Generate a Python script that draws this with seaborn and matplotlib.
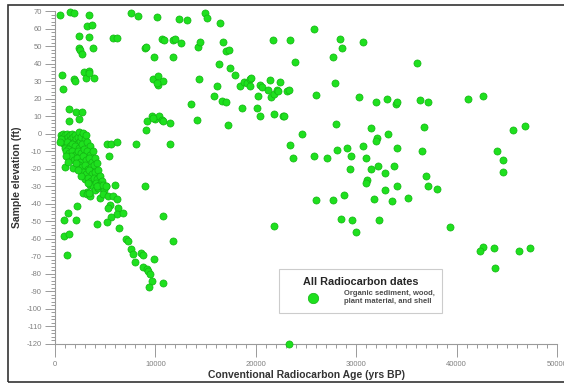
import numpy as np
import pandas as pd
import matplotlib
matplotlib.use('Agg')
import matplotlib.pyplot as plt
from matplotlib.patches import Rectangle
from matplotlib.lines import Line2D
from matplotlib.ticker import MultipleLocator
import seaborn as sns

# radiocarbon dates (age in yrs BP, elevation in ft)
# dense group of young, shallow samples
cluster_age = [600, 800, 900, 1000, 1100, 1200, 1300, 1400, 1500, 1600, 1700, 1800, 1900, 2000,
               2100, 2200, 2300, 2400, 2500, 2600, 2800, 3000, 3100, 700, 900, 1200, 1500, 1700,
               2000, 2400, 2700, 3200, 3500, 1000, 1300, 600, 500,
               1100, 1400, 1700, 2000, 2300, 2600, 2900, 3200, 3500, 3800, 1600, 1900, 2200, 2500,
               2800, 3100, 3400, 3700, 4000, 1100, 1000, 1800, 2400, 2700, 3000, 3300, 3600, 3900,
               4200, 2100, 1300,
               2800, 3100, 3400, 3700, 4000, 4300, 3000, 3300, 3600, 3900, 4200, 4500, 3500, 3800,
               4100, 4400, 4700, 4000, 4300, 4600, 4900, 5100, 3200, 2600, 2300, 3300, 4500, 4200, 4800]
cluster_elev = [-1, 0, -2, -1, -3, 0, -2, -4, -1, -3, 0, -2, -5, -1,
                -3, -6, -2, 1, -4, -2, 0.5, -3, -1, -4, -6, -5, -7, -6,
                -7, -8, -6, -5, -7, -8, -9, -3, -5,
                -10, -11, -10, -12, -10, -11, -9, -10, -12, -10, -13, -15, -14, -16,
                -13, -15, -14, -16, -14, -13, -19, -19.5, -18, -19, -18, -20, -19, -18,
                -17, -17, -16,
                -22, -23, -21, -23, -22, -21, -26, -25, -27, -25, -26, -24, -29, -30,
                -28, -29, -27, -32, -31, -30, -32, -30, -33, -24, -21, -28, -29, -30, -29]

# scattered samples, upper left
upper_age = [500, 1500, 1900, 3400, 3200, 3700, 2400, 3400, 2400, 2500, 2700, 3800, 5800, 6200,
             7600, 8300, 10200, 12400, 13100, 9000, 9100, 9900, 10700, 10900, 11800, 12000, 12500,
             11800, 14200, 14400, 700, 800, 1900, 2000, 2900, 3400, 3100, 3900, 3400, 9800, 10300,
             10300, 10800, 10200, 14300, 13500, 14100, 1400, 2100, 2700, 2400, 1400, 9200, 9100,
             9700, 10000, 10400, 10700, 10800, 11500, 9800, 8100, 5200, 5600, 6200, 11500, 9000,
             5400, 6000, 5100]
upper_elev = [68, 69.5, 69, 68, 61.5, 62, 55.7, 55, 49, 47.7, 45.4, 49, 54.6, 54.6,
              69, 67, 66.7, 65.5, 65, 49, 49.5, 44, 54, 53.5, 53.5, 54, 52,
              44, 49.4, 52.3, 33.3, 25.3, 31, 30, 35, 35.6, 32, 31.6, 34.5, 31, 33,
              28, 30, 29, 31, 17.2, 8, 13.8, 12.6, 12.6, 8.6, 7, 7, 2.3,
              10.3, 8.6, 10.3, 8, 7, 6.3, 9.2, -5.7, -5.7, -5.7, -4.6, -5.7, -30,
              -13, -29, -30]

# samples 14 - 33 ka
middle_age = [14900, 15100, 16400, 25800, 16700, 17000, 17300, 21700, 23400, 23900, 28400, 28600,
              30700, 27700, 16300, 17400, 17900, 16100, 15800, 16600, 17000, 17200, 18600, 18400,
              18800, 19100, 19400, 19500, 19400, 20400, 20600, 21400, 21200, 21500, 21800, 22100,
              22400, 22200, 23100, 23300, 20200, 20100, 20400, 21800, 22700, 22800, 26000, 27900,
              30300, 32000, 28000, 31500, 32100, 32000, 24600, 23400, 23700, 25800, 27100, 28100,
              29100, 29500, 30700, 31000, 29400, 31500, 32200, 31100, 31000, 28800, 26000, 27700,
              31800]
middle_elev = [69, 66, 63, 60, 52.3, 47, 47.7, 53.5, 53.5, 41, 54, 49,
               52.3, 43.7, 39.6, 37.4, 33.3, 27, 21.3, 18.4, 17.8, 5.2, 14.4, 27,
               29.3, 28.7, 31, 32, 27, 27.6, 26.4, 30.5, 24.7, 20.7, 22.4, 24.7,
               29.3, 24.1, 24.1, 24.7, 21.3, 14.4, 10.3, 11.5, 10.3, 10.3, 21.8, 28.7,
               20.7, 17.8, 5.7, 3.4, -2.3, -4, 0, -6.3, -13.8, -12.6, -13.8, -9.2,
               -8, -12.6, -6.9, -13.8, -20, -20, -18.4, -26.4, -28, -35, -38, -38,
               -37.4]

# oldest samples
right_age = [36100, 33100, 34000, 34100, 36400, 37200, 41100, 42600, 36800, 33200, 34100, 36600,
             45600, 46800, 44000, 44600, 44600, 32900, 33800, 37000, 34100, 37200, 38000, 32900,
             35200, 33600, 28500, 29600, 32300, 30000, 21800, 23300, 39300, 42600, 42300, 43700,
             43800, 46200, 47300]
right_elev = [40.2, 20, 17.2, 17.8, 19, 17.8, 20, 21.3, 4, 0, -8, -9.8,
              2.3, 4.6, -9.8, -14.9, -21.8, -22.4, -18.4, -24, -30, -30, -31.6, -32,
              -36.8, -38.5, -48.9, -49.4, -49.4, -56.3, -52.9, -120, -53.4, -64.4, -67.2, -65,
              -76.4, -67.2, -65]

# deep samples, lower left
lower_age = [2800, 3200, 3500, 3400, 4500, 4800, 5300, 5800, 6200, 5500, 5300, 6300, 6200, 5600,
             5200, 6400, 6800, 4200, 2200, 1300, 900, 2100, 900, 1400, 1200, 7100, 7300, 7600,
             7800, 8000, 8600, 8800, 8800, 9200, 9300, 9500, 9700, 9400, 9900, 10800, 10800, 11800]
lower_elev = [-34, -34.5, -35.6, -34, -36.8, -34.5, -35.6, -35.6, -37.4, -40.8, -42.5, -42.5, -46,
              -47.7, -50.6, -54, -45.4, -51.7, -41.4, -45.4, -49.4, -49.4, -58.6, -57.5, -69,
              -60.3, -61.5, -66, -68.4, -73, -67.8, -69.5, -75.9, -77, -78.2, -80, -84, -87.4,
              -71.3, -85, -47, -61.5]

x_ticks = [0, 10000, 20000, 30000, 40000, 50000]
y_ticks = list(range(-120, 71, 10))
legend_title = 'All Radiocarbon dates'
series_label = 'Organic sediment, wood,\nplant material, and shell'
dot_color = '#1ee01e'
dot_edge = '#14b414'

sns.set_style('white')
plt.rcParams['font.family'] = ['Liberation Sans', 'DejaVu Sans']

data = pd.DataFrame({
    'age': cluster_age + upper_age + middle_age + right_age + lower_age,
    'elev': cluster_elev + upper_elev + middle_elev + right_elev + lower_elev,
})

fig = plt.figure(figsize=(5.64, 3.85), dpi=100)
ax = fig.add_axes([55 / 564, 41 / 385, 502 / 564, 333 / 385])

sns.scatterplot(data=data, x='age', y='elev', color=dot_color, s=26,
                edgecolor=dot_edge, linewidth=0.5, ax=ax, clip_on=False,
                legend=False, zorder=3)

# axes settings
ax.set_xlim(0, 50000)
ax.set_ylim(-120, 70)
ax.set_xticks(x_ticks)
ax.set_yticks(y_ticks)
ax.set_xticklabels([str(t) for t in x_ticks])
ax.set_yticklabels([str(t) for t in y_ticks])
ax.xaxis.set_minor_locator(MultipleLocator(1000))
ax.yaxis.set_minor_locator(MultipleLocator(2))
for side in ['top', 'right']:
    ax.spines[side].set_visible(False)
for side in ['left', 'bottom']:
    ax.spines[side].set_color('#9a9a9a')
    ax.spines[side].set_linewidth(0.8)
ax.tick_params(which='both', bottom=True, left=True, direction='out',
               color='#9a9a9a', width=0.7)
ax.tick_params(axis='x', which='major', length=9.5, labelsize=5.5,
               labelcolor='#808080', pad=3)
ax.tick_params(axis='y', which='major', length=7.5, labelsize=5.5,
               labelcolor='#808080', pad=2)
ax.tick_params(which='minor', length=3)
ax.grid(False)

ax.set_xlabel('Conventional Radiocarbon Age (yrs BP)', fontsize=7.5,
              fontweight='bold', color='#333333')
ax.set_ylabel('Sample elevation (ft)', fontsize=7.5, fontweight='bold',
              color='#333333')
ax.xaxis.set_label_coords(0.5, -0.078)
ax.yaxis.set_label_coords(-0.066, 0.5)

# legend
handle = Line2D([], [], marker='o', ls='', markersize=7.5,
                markerfacecolor=dot_color, markeredgecolor=dot_edge,
                markeredgewidth=0.5)
leg = ax.legend([handle], [series_label], title=legend_title,
                loc='upper left', bbox_to_anchor=(279 / 564, 1 - 269 / 385),
                bbox_transform=fig.transFigure, borderaxespad=0,
                frameon=True, fancybox=False,
                edgecolor='#c0c0c0', fontsize=5.5, handlelength=6.8,
                handletextpad=0.7, borderpad=1.0,
                title_fontproperties={'weight': 'bold', 'size': 7.8})
leg.get_frame().set_linewidth(0.8)
for txt in leg.get_texts():
    txt.set_color('#4d4d4d')
    txt.set_fontweight('bold')

# outer frame round the whole figure
fig.patches.append(Rectangle((8 / 564, 3 / 385), 1.0, 1 - 8 / 385,
                             transform=fig.transFigure, fill=False,
                             edgecolor='#333333', linewidth=1.2))

plt.savefig('out.png', dpi=100)
plt.close()
